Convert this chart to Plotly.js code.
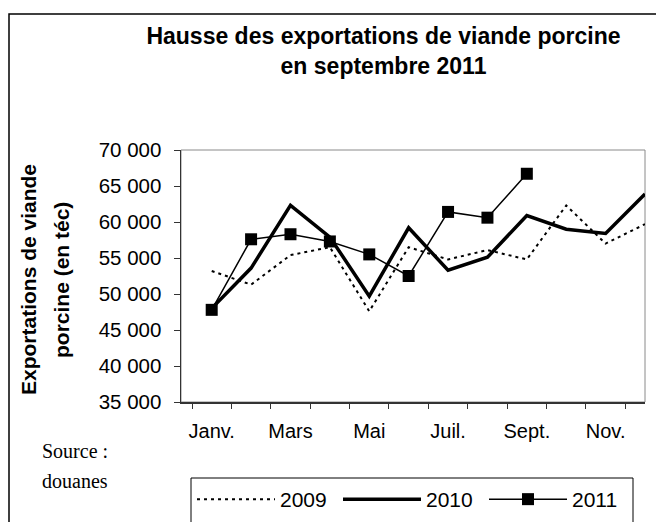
<!DOCTYPE html>
<html>
<head>
<meta charset="utf-8">
<script src="https://cdn.plot.ly/plotly-3.0.1.min.js"></script>
<style>html,body{margin:0;padding:0;background:#fff;}#chart{width:656px;height:522px;}</style>
</head>
<body>
<div id="chart"></div>
<script>
// Data
const months = ['Janv.','Févr.','Mars','Avr.','Mai','Juin','Juil.','Août','Sept.','Oct.','Nov.','Déc.'];
const xTickText = ['Janv.','','Mars','','Mai','','Juil.','','Sept.','','Nov.',''];
const s2009 = [53200, 51300, 55400, 56500, 47600, 56500, 54800, 56100, 54800, 62300, 57000, 59700];
const s2010 = [48000, 53600, 62300, 57900, 49700, 59200, 53300, 55100, 60900, 59000, 58400, 63900];
const s2011 = [47800, 57600, 58300, 57300, 55500, 52500, 61400, 60600, 66700];
const seriesNames = ['2009', '2010', '2011'];
const yTickVals = [35000, 40000, 45000, 50000, 55000, 60000, 65000, 70000];

const FONT = 'Liberation Sans, Arial, sans-serif';
const SERIF = 'Liberation Serif, Times New Roman, serif';

// plot area in pixels: x 181..645, y 150..402
const L = 181, R = 645, T = 150, B = 402;
const px = v => (v - L) / (R - L);
const py = v => (B - v) / (B - T);

const traces = [
  {x: months, y: s2009, name: seriesNames[0], type: 'scatter', mode: 'lines',
   line: {color: '#000', width: 2, dash: '3px,4px'}},
  {x: months, y: s2010, name: seriesNames[1], type: 'scatter', mode: 'lines',
   line: {color: '#000', width: 3.5}},
  {x: months.slice(0, s2011.length), y: s2011, name: seriesNames[2], type: 'scatter', mode: 'lines+markers',
   line: {color: '#000', width: 1.5}, marker: {symbol: 'square', size: 12, color: '#000'}}
];

const layout = {
  width: 656, height: 522,
  margin: {l: L, r: 656 - R, t: T, b: 522 - B, pad: 0, autoexpand: false},
  paper_bgcolor: '#fff', plot_bgcolor: '#fff',
  separators: ', ',
  font: {family: FONT, size: 20, color: '#000'},
  title: {
    text: '<b>Hausse des exportations de viande porcine<br>en septembre 2011</b>',
    font: {family: FONT, size: 23, color: '#000'},
    x: 383.5 / 656, xref: 'container', xanchor: 'center',
    y: 1 - 44 / 522, yref: 'container', yanchor: 'top'
  },
  xaxis: {
    type: 'category', categoryorder: 'array', categoryarray: months,
    tickvals: months, ticktext: xTickText, tickangle: 0,
    tickson: 'boundaries', ticks: 'outside', ticklen: 5, tickcolor: '#333', tickwidth: 1,
    showline: true, linecolor: '#333', linewidth: 1.5,
    showgrid: false, zeroline: false, automargin: false,
    tickfont: {family: FONT, size: 20, color: '#000'},
    ticklabelstandoff: 10,
    fixedrange: true
  },
  yaxis: {
    range: [35000, 70000], tickvals: yTickVals, tickformat: ',d',
    ticks: 'outside', ticklen: 6, tickcolor: '#333', tickwidth: 1,
    showline: true, linecolor: '#333', linewidth: 1.5,
    showgrid: false, zeroline: false, automargin: false,
    tickfont: {family: FONT, size: 20.5, color: '#000'},
    ticklabelstandoff: 8,
    fixedrange: true
  },
  showlegend: true,
  legend: {
    orientation: 'h', x: px(192), xanchor: 'left', y: py(479), yanchor: 'top',
    font: {family: FONT, size: 21, color: '#000'},
    bgcolor: 'rgba(0,0,0,0)', borderwidth: 0,
    itemwidth: 78, entrywidth: 53, entrywidthmode: 'pixels',
    traceorder: 'normal'
  },
  shapes: [
    // outer chart border
    {type: 'rect', xref: 'paper', yref: 'paper', x0: px(9), x1: px(700), y0: py(14), y1: py(600),
     line: {color: '#000', width: 1.5}, layer: 'below'},
    // plot area frame
    {type: 'rect', xref: 'paper', yref: 'paper', x0: 0, x1: 1, y0: 0, y1: 1,
     line: {color: '#8a8a8a', width: 1}, layer: 'below'},
    // legend box
    {type: 'rect', xref: 'paper', yref: 'paper', x0: px(191), x1: px(633), y0: py(478), y1: py(600),
     line: {color: '#000', width: 1}, layer: 'below'}
  ],
  annotations: [
    {text: '<b>Exportations de viande</b>', textangle: -90, xref: 'paper', yref: 'paper',
     x: px(28), y: py(280), xanchor: 'center', yanchor: 'middle', showarrow: false,
     font: {family: FONT, size: 21, color: '#000'}},
    {text: '<b>porcine (en téc)</b>', textangle: -90, xref: 'paper', yref: 'paper',
     x: px(61), y: py(280), xanchor: 'center', yanchor: 'middle', showarrow: false,
     font: {family: FONT, size: 21, color: '#000'}},
    {text: 'Source :', xref: 'paper', yref: 'paper', x: px(40), y: py(451),
     xanchor: 'left', yanchor: 'middle', showarrow: false,
     font: {family: SERIF, size: 20, color: '#000'}},
    {text: 'douanes', xref: 'paper', yref: 'paper', x: px(40), y: py(481),
     xanchor: 'left', yanchor: 'middle', showarrow: false,
     font: {family: SERIF, size: 20, color: '#000'}}
  ]
};

Plotly.newPlot('chart', traces, layout, {displayModeBar: false, staticPlot: true});
</script>
</body>
</html>
